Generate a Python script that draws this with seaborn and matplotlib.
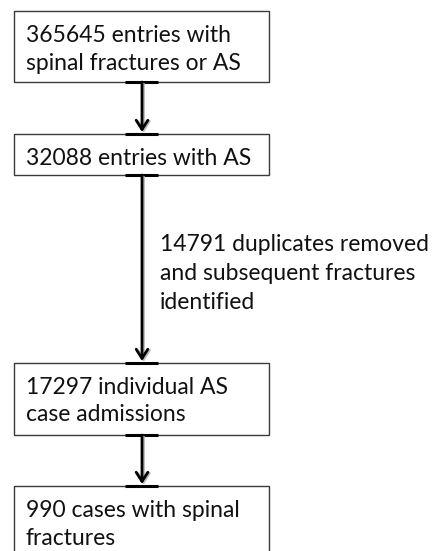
import matplotlib
matplotlib.use("Agg")
import matplotlib.pyplot as plt
import seaborn as sns
from matplotlib.patches import Rectangle

sns.set_theme(style="white")
plt.rcParams['font.family'] = ['Lato', 'DejaVu Sans']

# Flowchart content
box_lines = [
    ["365645 entries with", "spinal fractures or AS"],
    ["32088 entries with AS"],
    ["17297 individual AS", "case admissions"],
    ["990 cases with spinal", "fractures"],
]
side_note = ["14791 duplicates removed", "and subsequent fractures", "identified"]

# Layout (pixels)
W, H = 434, 551
box_left, box_right = 14, 269
box_tops = [11, 134, 363, 486]
box_bottoms = [82, 175, 435, 570]
line_baselines = [[42, 70], [165], [394, 421], [517, 545]]
text_x = 26
arrow_x = 142
note_x = 160
note_baselines = [251, 280, 309]
fs = 16.5

fig = plt.figure(figsize=(W / 100, H / 100), dpi=100)
ax = fig.add_axes([0, 0, 1, 1])
ax.set_xlim(0, W)
ax.set_ylim(H, 0)
ax.axis("off")

for lines, top, bot, bls in zip(box_lines, box_tops, box_bottoms, line_baselines):
    ax.add_patch(Rectangle((box_left, top), box_right - box_left, bot - top,
                           fill=False, edgecolor="#3a3a3a", linewidth=1.0))
    for ln, bl in zip(lines, bls):
        ax.text(text_x, bl, ln, fontsize=fs, color="#111111", va="baseline", ha="left")

for i in range(len(box_lines) - 1):
    y0, y1 = box_bottoms[i], box_tops[i + 1]
    # thick connector marks on box edges
    ax.plot([125, 158], [y0, y0], color="black", lw=2.2, solid_capstyle="butt")
    ax.plot([125, 158], [y1, y1], color="black", lw=2.2, solid_capstyle="butt")
    # shadow
    ax.annotate("", xy=(arrow_x + 1.5, y1 - 1), xytext=(arrow_x + 1.5, y0 + 2),
                arrowprops=dict(arrowstyle="->,head_length=0.55,head_width=0.35",
                                color="#bbbbbb", lw=2.0, shrinkA=0, shrinkB=0))
    ax.annotate("", xy=(arrow_x, y1 - 2), xytext=(arrow_x, y0),
                arrowprops=dict(arrowstyle="->,head_length=0.55,head_width=0.35",
                                color="black", lw=2.0, shrinkA=0, shrinkB=0))

for ln, bl in zip(side_note, note_baselines):
    ax.text(note_x, bl, ln, fontsize=fs, color="#111111", va="baseline", ha="left")

fig.savefig("out.png", dpi=100, facecolor="white")
